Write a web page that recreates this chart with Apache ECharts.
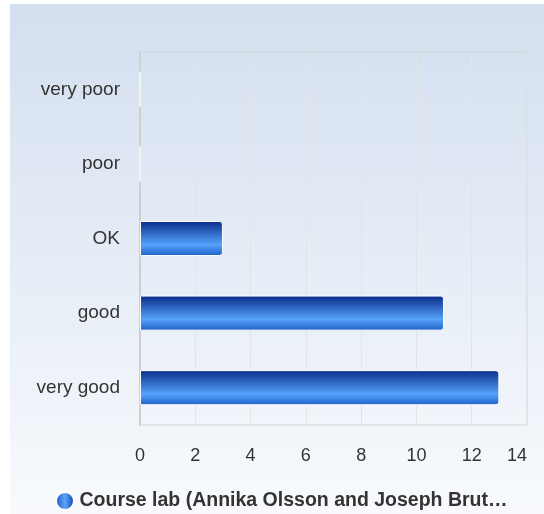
<!DOCTYPE html>
<html>
<head>
<meta charset="utf-8">
<script src="https://cdn.jsdelivr.net/npm/echarts@6/dist/echarts.min.js"></script>
<style>
  html, body { margin: 0; padding: 0; background: #fff; }
  #chart { width: 544px; height: 514px; }
</style>
</head>
<body>
<div id="chart"></div>
<script>
const categories = ['very good', 'good', 'OK', 'poor', 'very poor'];
const counts = [13, 11, 3, 0, 0];
const seriesName = 'Course lab (Annika Olsson and Joseph Brut…';
const xTicks = [0, 2, 4, 6, 8, 10, 12, 14];

const barFill = new echarts.graphic.LinearGradient(0, 0, 0, 1, [
  { offset: 0, color: '#0a2b8a' },
  { offset: 0.68, color: '#55a2fb' },
  { offset: 1, color: '#1f5fc6' }
]);

const chart = echarts.init(document.getElementById('chart'));
chart.setOption({
  animation: false,
  backgroundColor: '#fff',
  graphic: [{
    type: 'rect',
    z: -10,
    silent: true,
    shape: { x: 10, y: 4, width: 534, height: 510 },
    style: {
      fill: new echarts.graphic.LinearGradient(0, 0, 0, 1, [
        { offset: 0, color: '#d3dfef' },
        { offset: 1, color: '#f8fafd' }
      ])
    }
  }],
  grid: {
    left: 140, right: 17, top: 52, bottom: 89,
    show: true,
    borderColor: '#d4d4d4',
    borderWidth: 1,
    backgroundColor: 'transparent'
  },
  legend: {
    left: 50, top: 486,
    itemWidth: 19, itemHeight: 18,
    itemGap: 8,
    data: [{
      name: seriesName,
      icon: 'circle',
      itemStyle: {
        color: new echarts.graphic.LinearGradient(0, 0, 1, 0, [
          { offset: 0, color: '#1c4fc0' },
          { offset: 0.5, color: '#5aa5fb' },
          { offset: 1, color: '#0d3a9e' }
        ])
      }
    }],
    textStyle: {
      fontFamily: 'Liberation Sans, Arial, sans-serif',
      fontSize: 19.5, fontWeight: 'bold', color: '#333'
    }
  },
  xAxis: {
    type: 'value',
    min: xTicks[0], max: xTicks[xTicks.length - 1], interval: 2,
    axisLine: { show: false },
    axisTick: { show: false },
    splitLine: { show: true, lineStyle: { color: '#e2e4e8', width: 1 } },
    axisLabel: {
      margin: 22,
      alignMaxLabel: 'right',
      fontFamily: 'Liberation Sans, Arial, sans-serif',
      fontSize: 18, color: '#333'
    }
  },
  yAxis: {
    type: 'category',
    data: categories,
    axisLine: { show: true, lineStyle: { color: '#cfcfcf', width: 2 } },
    axisTick: { show: false },
    splitLine: { show: false },
    axisLabel: {
      margin: 20,
      padding: [10, 0, 0, 0],
      fontFamily: 'Liberation Sans, Arial, sans-serif',
      fontSize: 19, color: '#333'
    }
  },
  series: [{
    name: seriesName,
    type: 'bar',
    data: counts,
    barWidth: '47%',
    itemStyle: {
      color: barFill,
      borderColor: '#fff',
      borderWidth: 1,
      borderRadius: [0, 3, 3, 0]
    }
  }]
});
</script>
</body>
</html>
